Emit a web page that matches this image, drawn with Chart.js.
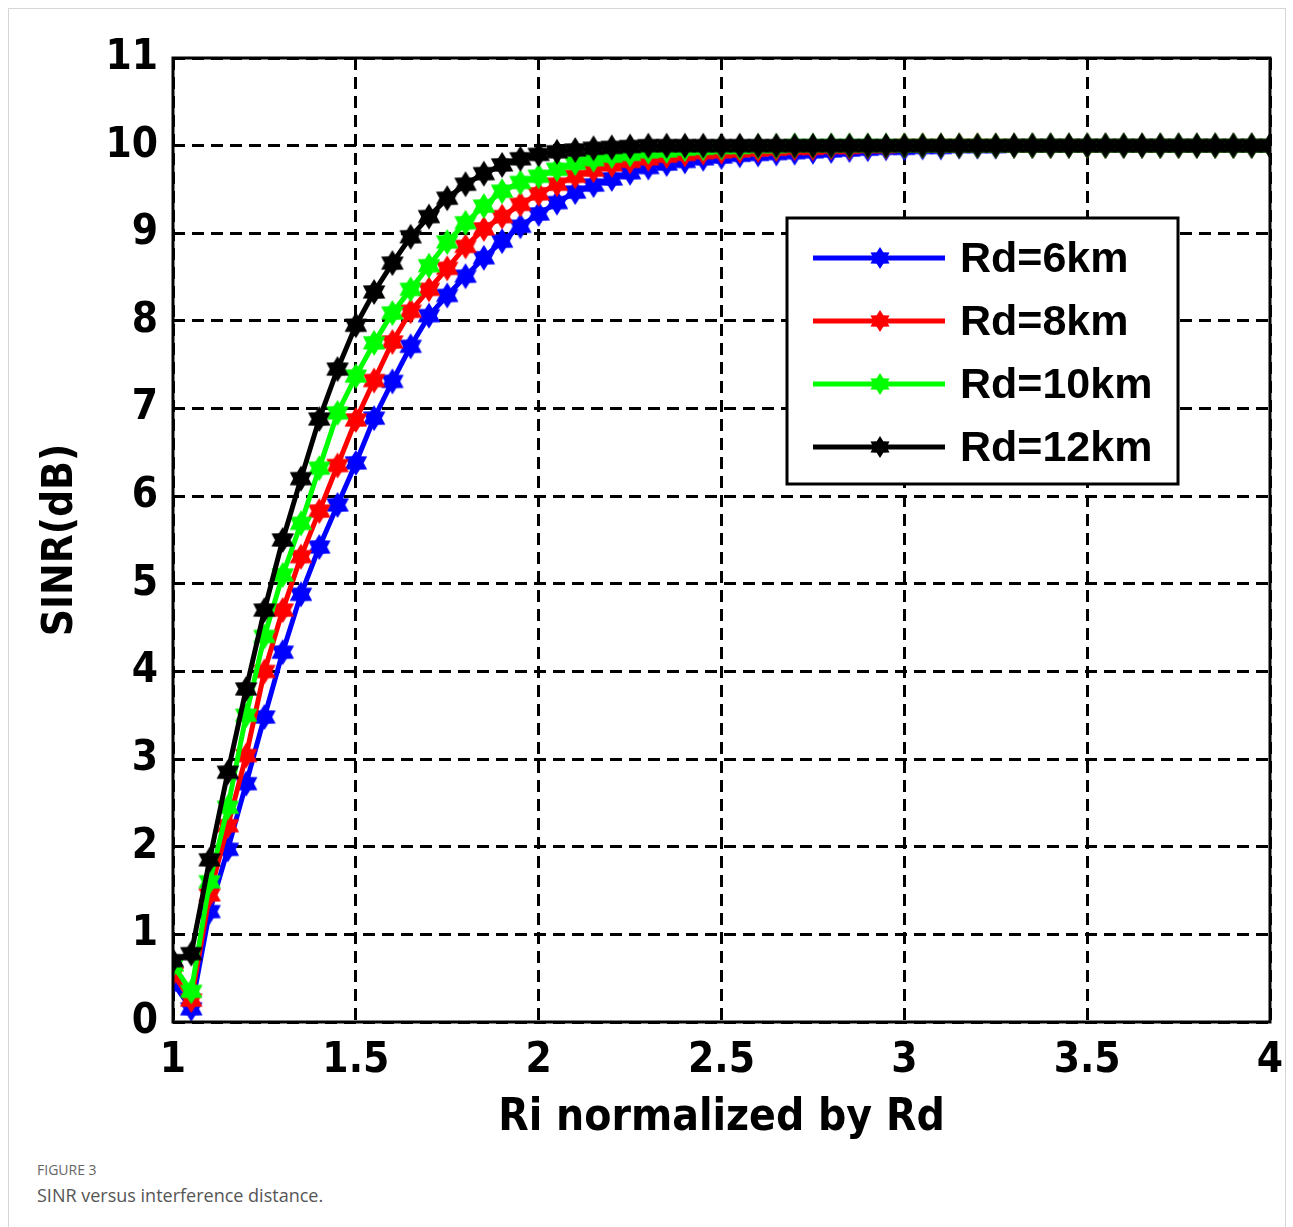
<!DOCTYPE html>
<html>
<head>
<meta charset="utf-8">
<script src="https://cdn.jsdelivr.net/npm/chart.js@4.4.0/dist/chart.umd.min.js"></script>
<style>
  body { margin: 0; background: #fff; width: 1293px; height: 1227px; position: relative; overflow: hidden; }
  #frame { position: absolute; left: 8px; top: 8px; width: 1276px; height: 1230px; border: 1px solid #d6d6d6; }
  #sinrChart { position: absolute; left: 0; top: 0; }
  .cap1 { position: absolute; left: 37px; top: 1160px; font: 14px "Open Sans", sans-serif; color: #666; }
  .cap2 { position: absolute; left: 37px; top: 1183px; font: 18px "Open Sans", sans-serif; color: #555; }
</style>
</head>
<body>
<div id="frame"></div>
<canvas id="sinrChart" width="1293" height="1150"></canvas>
<div class="cap1">FIGURE 3</div>
<div class="cap2">SINR versus interference distance.</div>
<script>
// Ri normalized by Rd
const xValues = [1.00, 1.05, 1.10, 1.15, 1.20, 1.25, 1.30, 1.35, 1.40, 1.45,
    1.50, 1.55, 1.60, 1.65, 1.70, 1.75, 1.80, 1.85, 1.90, 1.95,
    2.00, 2.05, 2.10, 2.15, 2.20, 2.25, 2.30, 2.35, 2.40, 2.45,
    2.50, 2.55, 2.60, 2.65, 2.70, 2.75, 2.80, 2.85, 2.90, 2.95,
    3.00, 3.05, 3.10, 3.15, 3.20, 3.25, 3.30, 3.35, 3.40, 3.45,
    3.50, 3.55, 3.60, 3.65, 3.70, 3.75, 3.80, 3.85, 3.90, 3.95, 4.00];

// SINR (dB) per Rd
const rd6 = [0.45, 0.15, 1.26, 1.97, 2.72, 3.48, 4.22, 4.88, 5.42, 5.90,
    6.38, 6.89, 7.31, 7.71, 8.06, 8.29, 8.51, 8.72, 8.91, 9.08,
    9.22, 9.35, 9.47, 9.55, 9.62, 9.69, 9.75, 9.79, 9.82, 9.85,
    9.87, 9.89, 9.90, 9.91, 9.92, 9.93, 9.94, 9.95, 9.96, 9.97,
    9.97, 9.98, 9.98, 9.99, 9.99, 9.99, 10, 10, 10, 10,
    10, 10, 10, 10, 10, 10, 10, 10, 10, 10, 10];
const rd8 = [0.55, 0.25, 1.45, 2.24, 3.04, 4.00, 4.70, 5.31, 5.83, 6.35,
    6.87, 7.32, 7.76, 8.11, 8.36, 8.60, 8.85, 9.05, 9.19, 9.33,
    9.45, 9.56, 9.65, 9.72, 9.78, 9.82, 9.85, 9.88, 9.90, 9.92,
    9.93, 9.94, 9.95, 9.96, 9.97, 9.97, 9.98, 9.98, 9.99, 9.99,
    10, 10, 10, 10, 10, 10, 10, 10, 10, 10,
    10, 10, 10, 10, 10, 10, 10, 10, 10, 10, 10];
const rd10 = [0.65, 0.35, 1.60, 2.45, 3.50, 4.40, 5.10, 5.69, 6.32, 6.95,
    7.37, 7.75, 8.09, 8.36, 8.63, 8.90, 9.12, 9.31, 9.48, 9.58,
    9.65, 9.73, 9.80, 9.84, 9.88, 9.90, 9.93, 9.94, 9.96, 9.97,
    9.98, 9.98, 9.99, 9.99, 10, 10, 10, 10, 10, 10,
    10, 10, 10, 10, 10, 10, 10, 10, 10, 10,
    10, 10, 10, 10, 10, 10, 10, 10, 10, 10, 10];
const rd12 = [0.70, 0.78, 1.85, 2.85, 3.80, 4.70, 5.50, 6.20, 6.88, 7.45,
    7.95, 8.33, 8.66, 8.96, 9.19, 9.40, 9.56, 9.68, 9.78, 9.85,
    9.90, 9.93, 9.95, 9.97, 9.98, 9.99, 10, 10, 10, 10,
    10, 10, 10, 10, 10, 10, 10, 10, 10, 10,
    10, 10, 10, 10, 10, 10, 10, 10, 10, 10,
    10, 10, 10, 10, 10, 10, 10, 10, 10, 10, 10];

const seriesLabels = ['Rd=6km', 'Rd=8km', 'Rd=10km', 'Rd=12km'];
const seriesColors = ['#0000ff', '#ff0000', '#00ff00', '#000000'];
const seriesValues = [rd6, rd8, rd10, rd12];

// filled six point star, like the matlab hexagram marker
function makeStar(color, r) {
    const c = document.createElement('canvas');
    c.width = c.height = 2 * r + 4;
    const g = c.getContext('2d');
    g.fillStyle = color;
    g.beginPath();
    for (let i = 0; i < 12; i++) {
        const a = -Math.PI / 2 + i * Math.PI / 6;
        const rr = i % 2 ? r * 0.6 : r;
        g.lineTo(c.width / 2 + rr * Math.cos(a), c.height / 2 + rr * Math.sin(a));
    }
    g.closePath();
    g.fill();
    return c;
}

const datasets = seriesValues.map((vals, i) => ({
    label: seriesLabels[i],
    data: vals.map((v, j) => ({ x: xValues[j], y: v })),
    borderColor: seriesColors[i],
    backgroundColor: seriesColors[i],
    borderWidth: 5,
    pointStyle: makeStar(seriesColors[i], 13),
    pointRadius: 13,
    tension: 0,
    order: 4 - i
}));

// axes box and legend drawn on top
const boxAndLegend = {
    id: 'boxAndLegend',
    afterDraw(chart) {
        const ctx = chart.ctx;
        const a = chart.chartArea;
        ctx.save();
        ctx.strokeStyle = '#000';
        ctx.lineWidth = 3;
        ctx.setLineDash([]);
        ctx.strokeRect(a.left, a.top, a.right - a.left, a.bottom - a.top);

        const lx = 787, ly = 218, lw = 391, lh = 266;
        ctx.fillStyle = '#fff';
        ctx.fillRect(lx, ly, lw, lh);
        ctx.lineWidth = 3;
        ctx.strokeRect(lx, ly, lw, lh);
        ctx.font = 'bold 43px "Liberation Sans", Arial, sans-serif';
        ctx.textBaseline = 'middle';
        chart.data.datasets.forEach((ds, i) => {
            const y = 258 + i * 63;
            ctx.strokeStyle = ds.borderColor;
            ctx.lineWidth = 5;
            ctx.beginPath();
            ctx.moveTo(813, y);
            ctx.lineTo(945, y);
            ctx.stroke();
            const img = makeStar(ds.borderColor, 11);
            ctx.drawImage(img, 880 - img.width / 2, y - img.height / 2);
            ctx.fillStyle = '#000';
            ctx.fillText(ds.label, 960, y + 2);
        });
        ctx.restore();
    }
};

const ctx = document.getElementById('sinrChart').getContext('2d');
new Chart(ctx, {
    type: 'line',
    data: { datasets: datasets },
    options: {
        responsive: false,
        animation: false,
        devicePixelRatio: 1,
        layout: { padding: { top: 58, right: 23, left: 0, bottom: 0 } },
        plugins: {
            legend: { display: false },
            tooltip: { enabled: false }
        },
        scales: {
            x: {
                type: 'linear',
                min: 1,
                max: 4,
                afterFit: (s) => { s.height = 128; s.paddingLeft = 0; s.paddingRight = 0; },
                ticks: {
                    stepSize: 0.5,
                    color: '#000',
                    padding: 14,
                    maxRotation: 0,
                    callback: (v) => String(v),
                    font: { family: '"DejaVu Sans Condensed", "DejaVu Sans", sans-serif', size: 42, weight: 'bold' }
                },
                grid: { color: '#000', lineWidth: 3, drawTicks: false },
                border: { display: false, dash: [12, 7] },
                title: {
                    display: true,
                    text: 'Ri normalized by Rd',
                    color: '#000',
                    padding: { top: 0, bottom: 5 },
                    font: { family: '"DejaVu Sans Condensed", "DejaVu Sans", sans-serif', size: 44, weight: 'bold' }
                }
            },
            y: {
                min: 0,
                max: 11,
                afterFit: (s) => { s.width = 173; s.paddingTop = 0; s.paddingBottom = 0; },
                ticks: {
                    stepSize: 1,
                    color: '#000',
                    padding: 15,
                    font: { family: '"DejaVu Sans Condensed", "DejaVu Sans", sans-serif', size: 42, weight: 'bold' }
                },
                grid: { color: '#000', lineWidth: 3, drawTicks: false },
                border: { display: false, dash: [12, 7] },
                title: {
                    display: true,
                    text: 'SINR(dB)',
                    color: '#000',
                    padding: { top: 36, bottom: 0 },
                    font: { family: '"DejaVu Sans Condensed", "DejaVu Sans", sans-serif', size: 42, weight: 'bold' }
                }
            }
        }
    },
    plugins: [boxAndLegend]
});
</script>
</body>
</html>
